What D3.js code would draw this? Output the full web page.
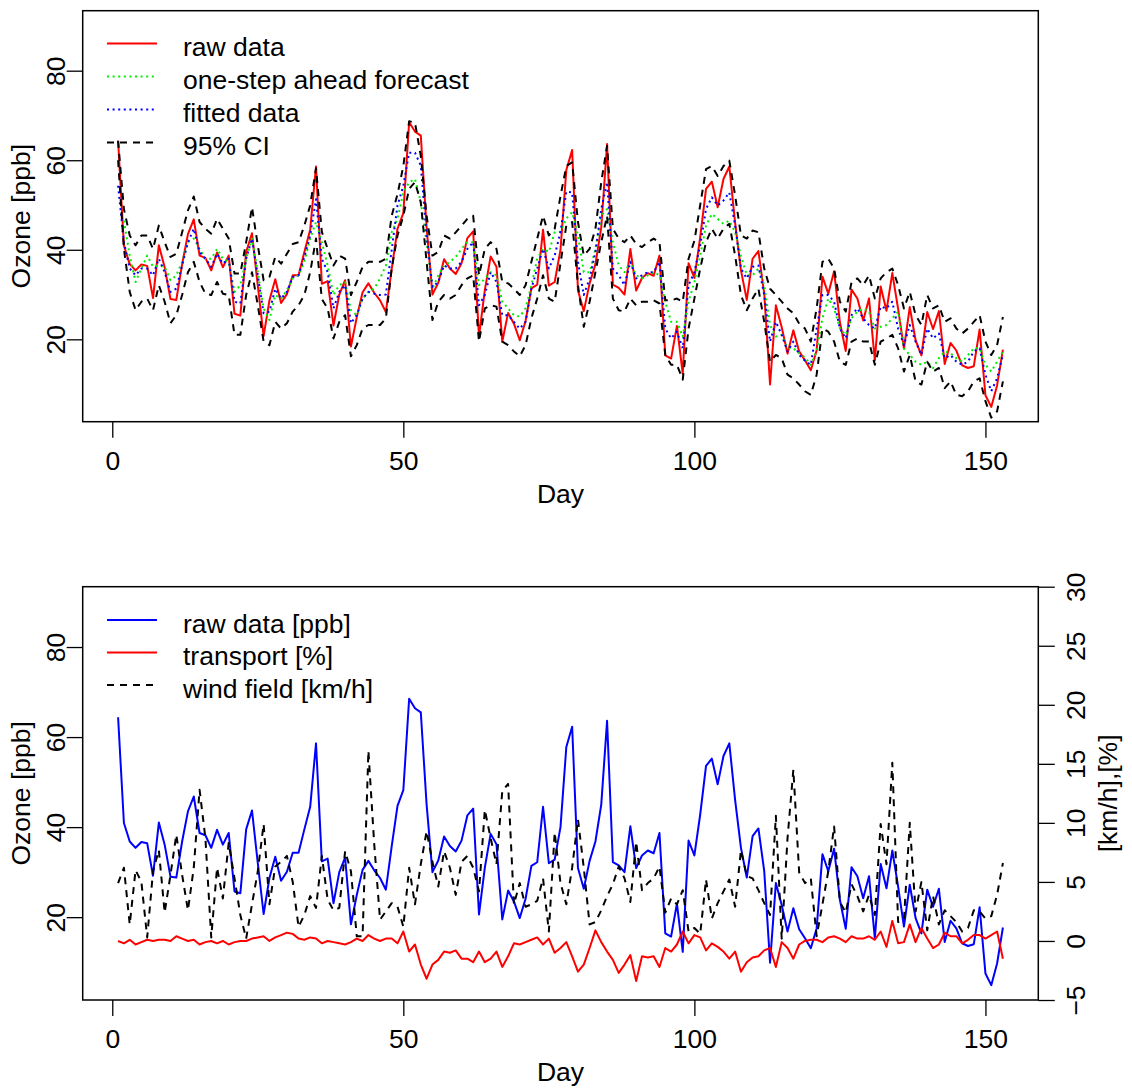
<!DOCTYPE html>
<html><head><meta charset="utf-8">
<script src="https://cdn.jsdelivr.net/npm/d3@7"></script>
<style>body{margin:0;background:#fff} text{font-family:"Liberation Sans",Arial,Helvetica,sans-serif;fill:#000}</style>
</head><body><svg id="c" width="1132" height="1089"></svg>
<script>
// ---------------- DATA ----------------
const days = d3.range(1, 154);
const xTicks = [0, 50, 100, 150];
const yTicksLeft = [20, 40, 60, 80];
const yTicksRight = [-5, 0, 5, 10, 15, 20, 25, 30];

const rawOzone = [64.4,40.9,36.8,35.4,36.7,36.4,29.2,41.0,36.1,29.0,28.8,36.8,43.5,46.8,38.7,38.2,35.4,39.4,36.1,38.7,
25.7,25.3,39.5,43.7,32.0,20.7,28.7,33.4,28.1,30.1,34.3,34.3,39.5,44.5,58.6,32.4,33.0,23.1,30.0,33.2,
18.4,24.9,30.5,32.5,30.4,28.7,26.1,35.7,44.7,48.2,68.5,66.4,65.5,45.0,30.0,32.6,37.9,35.8,34.6,37.0,
42.6,44.1,20.6,31.0,38.5,36.2,19.5,25.9,23.5,19.8,24.1,31.4,32.2,44.5,32.0,32.8,40.0,57.8,62.3,30.9,
26.3,32.5,36.8,45.0,63.6,32.2,31.5,30.0,40.2,30.9,33.7,34.8,34.2,38.7,16.4,15.7,23.0,12.3,37.0,33.7,
42.8,53.6,55.2,49.5,55.8,58.6,46.0,35.4,28.8,38.0,39.7,30.2,9.9,27.6,22.7,16.8,22.0,17.3,15.3,13.1,
17.5,34.0,30.2,35.2,23.8,17.4,31.1,29.1,24.2,29.1,15.3,31.8,26.4,34.8,26.8,17.9,27.2,19.8,16.4,26.1,
22.3,26.3,14.5,19.2,17.5,14.2,13.6,14.0,22.2,7.5,4.9,9.7,17.7];

const forecast = [null,46.5,38.7,32.8,35.8,38.7,36.2,36.5,36.2,33.2,34.3,37.3,41.7,42.5,40.2,38.0,38.0,40.2,38.0,37.3,
30.6,32.1,38.0,42.5,35.0,26.9,24.3,29.9,29.1,31.0,33.6,34.3,37.3,42.5,46.2,41.7,36.5,29.9,32.1,32.8,
26.5,25.4,29.1,30.6,31.3,33.6,36.5,43.9,46.9,52.8,55.1,55.8,50.6,41.7,31.3,34.3,36.5,37.3,38.4,40.2,
41.7,41.7,32.1,33.6,35.0,34.3,28.4,26.9,25.4,25.1,26.9,32.1,38.0,40.2,39.5,43.9,44.0,47.0,48.4,43.2,
35.0,35.0,40.2,47.6,49.1,41.7,36.5,35.0,37.3,34.3,33.6,34.3,35.0,34.3,28.4,23.9,23.9,20.6,28.4,32.8,
38.7,45.4,48.0,46.9,45.8,46.5,43.9,38.7,34.3,34.3,35.8,32.1,23.2,20.6,21.0,18.0,18.0,16.9,16.0,14.3,
17.3,24.7,29.1,26.9,22.4,21.0,24.7,26.2,26.9,26.2,22.4,22.8,23.2,24.7,26.2,18.0,16.5,15.0,14.3,15.0,
13.6,15.8,17.3,16.9,15.8,15.0,16.5,18.0,18.0,14.3,12.8,15.0,17.3];

const fitted = [54.3,41.7,35.8,34.3,35.8,35.8,34.3,38.0,35.0,30.6,31.3,36.5,41.7,44.7,39.5,38.0,36.2,39.1,36.9,38.0,
28.4,28.0,38.0,42.5,34.3,25.8,26.2,31.3,29.1,30.6,33.9,34.3,38.4,43.2,51.3,38.0,35.0,26.9,30.6,32.1,
23.6,25.4,29.1,30.6,30.2,29.9,30.0,40.0,49.9,54.3,61.7,61.7,58.8,43.2,31.7,32.8,36.5,35.8,35.8,37.3,
40.2,41.7,27.6,29.9,35.0,32.8,25.4,25.4,23.9,22.4,23.9,31.3,35.8,40.2,35.8,38.7,44.0,53.0,52.8,37.3,
29.9,33.6,39.5,49.1,55.1,35.8,34.3,32.1,37.3,33.6,34.3,35.0,35.0,37.3,22.4,20.2,21.7,18.0,32.1,35.0,
41.0,49.1,51.7,49.9,51.0,52.8,45.4,35.8,33.6,36.2,36.5,29.9,19.5,23.9,21.0,17.3,19.5,16.5,15.2,14.3,
22.4,29.9,29.9,28.4,22.4,20.2,25.4,26.9,24.7,23.2,22.4,27.3,26.9,28.4,22.4,18.7,23.2,19.5,16.5,22.4,
20.2,21.3,15.8,16.5,15.0,14.3,15.0,17.3,18.0,12.1,8.4,11.3,16.5];

const ciUpper = [64.3,49.1,43.2,41.0,43.2,43.2,40.2,45.4,41.7,38.4,39.1,43.9,48.8,51.9,46.2,44.7,43.6,46.9,44.7,42.5,
34.7,34.7,41.7,49.5,41.0,33.2,33.9,38.4,36.9,39.1,41.3,41.7,45.4,49.9,58.2,44.0,40.2,36.5,38.7,38.0,
29.9,32.8,36.2,37.3,37.3,37.3,38.0,47.6,52.4,58.7,68.7,68.4,61.0,47.6,38.7,39.5,43.2,42.5,43.9,45.4,
46.9,47.6,34.3,40.2,41.7,40.2,32.8,32.5,31.3,29.9,32.1,37.3,42.5,47.6,43.2,44.7,52.0,58.7,59.5,46.2,
38.7,40.2,44.7,55.1,63.2,44.7,42.5,41.7,43.2,41.3,40.6,41.7,42.5,41.7,28.7,28.7,29.1,28.4,38.0,42.0,
50.0,58.0,58.7,56.5,58.7,59.9,52.1,43.2,42.5,44.3,43.9,35.8,31.3,29.9,28.4,26.9,25.8,23.5,22.4,19.5,
26.9,37.3,38.0,35.8,28.4,26.2,32.8,33.6,32.1,34.3,29.1,33.6,35.0,35.8,32.1,26.9,30.6,25.4,23.2,29.9,
26.9,27.6,23.9,24.7,22.4,21.3,22.4,23.9,25.4,19.5,16.5,18.7,25.0];

const ciLower = [60.0,40.2,30.6,26.5,28.4,29.1,26.5,32.1,28.4,23.6,25.4,29.9,35.0,37.3,32.8,30.2,29.9,32.8,30.2,29.9,
21.0,21.0,29.9,35.0,27.6,19.5,18.7,23.9,22.4,23.6,26.2,27.6,29.9,35.0,42.5,29.0,26.9,20.2,23.9,25.4,
16.2,18.7,22.4,23.2,23.2,23.2,24.7,35.8,43.2,47.6,53.6,55.1,50.6,37.3,24.3,28.4,29.9,29.1,29.9,32.1,
33.6,34.3,19.5,26.9,27.6,27.3,19.5,18.7,17.3,16.2,18.7,24.7,29.1,34.3,29.1,28.4,37.0,45.4,46.2,32.1,
22.8,28.4,35.0,41.7,47.6,29.1,26.5,26.2,29.1,27.6,28.4,28.4,28.7,28.0,16.5,14.3,14.3,11.0,22.4,29.1,
35.8,41.7,44.7,42.5,44.7,45.8,38.7,29.9,26.5,29.1,31.3,23.9,15.0,16.5,15.8,12.1,11.3,9.9,8.4,7.6,
12.1,22.4,21.7,19.5,15.0,14.3,19.5,20.2,19.5,19.5,14.3,19.5,20.2,21.0,18.0,12.8,16.5,10.6,9.9,15.0,
12.8,13.6,9.1,10.6,7.6,7.3,8.4,10.6,11.3,6.2,2.5,3.9,10.6];

const transport = [0.0,-0.2,0.1,-0.3,-0.1,0.1,0.0,0.1,0.1,0.0,0.4,0.2,0.0,0.1,-0.3,-0.1,0.0,-0.2,0.0,-0.3,
-0.1,0.0,0.0,0.2,0.3,0.4,0.0,0.3,0.5,0.7,0.6,0.2,0.1,0.3,0.2,-0.2,0.0,-0.1,-0.2,-0.3,
-0.1,0.2,0.0,0.5,0.2,0.0,0.2,0.2,-0.2,0.8,-0.9,-0.3,-2.0,-3.2,-2.0,-1.6,-0.9,-1.0,-0.8,-1.5,
-1.5,-1.8,-0.9,-1.8,-1.5,-0.9,-2.2,-1.3,-0.2,-0.3,-0.1,0.1,0.3,-0.3,0.2,-1.0,-0.6,-0.1,-1.3,-2.6,
-2.0,-0.6,0.9,-0.1,-0.9,-1.6,-2.7,-2.0,-1.2,-3.4,-1.3,-1.4,-1.3,-2.2,-0.6,-0.9,-0.3,0.8,-0.2,0.5,
0.3,-0.8,-0.2,-0.5,-0.9,-1.5,-0.9,-2.6,-1.8,-1.4,-1.3,-0.8,-0.6,-2.2,-0.1,-0.6,-1.5,-0.3,0.0,0.1,
0.1,-0.1,0.3,0.4,0.2,-0.1,0.4,0.2,0.2,0.4,0.1,0.8,-0.5,1.7,-0.2,-0.1,1.4,-0.1,1.1,0.2,
-0.6,-0.3,0.7,0.4,0.4,-0.2,0.1,0.5,0.5,0.2,0.5,0.8,-1.5];

const windField = [4.9,6.2,1.4,6.0,5.0,0.3,5.9,7.7,2.4,5.6,9.0,5.6,2.6,6.2,12.8,8.7,0.3,6.2,3.6,8.3,
5.3,2.2,0.2,3.1,5.9,9.9,3.1,6.3,6.7,7.2,5.0,1.2,2.2,3.8,2.8,7.2,3.5,2.6,2.8,7.6,
5.9,0.4,0.4,16.1,8.2,1.8,2.5,3.2,2.9,1.2,6.2,3.1,6.5,9.3,6.7,4.6,7.6,6.2,3.9,6.7,
7.2,6.2,4.2,11.1,8.7,6.5,12.7,13.3,3.1,4.9,2.9,3.1,3.4,5.3,0.8,9.2,4.9,3.1,6.2,10.3,
6.2,1.4,1.6,2.6,3.8,4.8,6.3,5.3,3.3,8.4,4.3,4.9,5.3,6.3,2.4,3.6,3.1,4.3,0.8,1.1,
0.6,5.2,1.9,3.2,4.2,5.2,2.9,7.7,5.5,5.3,4.3,3.2,2.2,10.6,0.2,8.7,14.5,5.8,4.9,5.3,
0.4,3.1,5.9,9.7,3.3,2.4,4.8,3.8,2.5,3.9,2.2,9.9,6.5,15.1,1.6,1.8,10.0,2.5,5.0,0.9,
3.8,1.4,2.6,2.1,1.6,0.8,1.1,2.6,2.5,1.9,2.1,3.9,6.6];

const topLegend = ["raw data", "one-step ahead forecast", "fitted data", "95% CI"];
const bottomLegend = ["raw data [ppb]", "transport [%]", "wind field [km/h]"];

// ---------------- DRAW ----------------
const FS = 26.5;
const svg = d3.select("#c");
const xL = 82.7, xR = 1038.3;
const x = d3.scaleLinear().domain([-5.08, 159.08]).range([xL, xR]);
const panels = [{top: 10.7, bottom: 421.7}, {top: 586.7, bottom: 1000}];

function styleLine(p, col, dash, w) {
  p.attr("fill", "none").attr("stroke", col).attr("stroke-width", w || 2)
   .attr("stroke-linejoin", "round");
  if (dash) p.attr("stroke-dasharray", dash);
  return p;
}
const DOT = "2,3.6", DASH = "7,6";

function drawPanel(idx, series, legendItems, legendY0, legendDy, right) {
  const P = panels[idx];
  const g = svg.append("g");
  const y = d3.scaleLinear().domain([1.6, 93.4]).range([P.bottom, P.top]);
  const cid = "clip" + idx;
  svg.append("clipPath").attr("id", cid).append("rect")
    .attr("x", xL).attr("y", P.top).attr("width", xR - xL).attr("height", P.bottom - P.top);
  const plot = g.append("g").attr("clip-path", `url(#${cid})`);
  series.forEach(s => {
    const sc = s.right ? right.scale : y;
    const ln = d3.line().defined(d => d[1] != null).x(d => x(d[0])).y(d => sc(d[1]));
    styleLine(plot.append("path").attr("d", ln(days.map((d, i) => [d, s.values[i]]))), s.color, s.dash, s.width);
  });
  // x axis
  const xa = g.append("g").attr("transform", `translate(0,${P.bottom})`)
    .call(d3.axisBottom(x).tickValues(xTicks).tickSize(16).tickSizeOuter(0).tickFormat(d3.format("d")));
  xa.select(".domain").remove();
  xa.selectAll("line").attr("stroke", "#000").attr("stroke-width", 1.3);
  xa.selectAll("text").attr("font-size", FS).attr("y", 48).attr("dy", null)
    .style("font-family", '"Liberation Sans",Arial,sans-serif');
  g.append("text").attr("x", (xL + xR) / 2).attr("y", P.bottom + 81).attr("text-anchor", "middle")
    .attr("font-size", FS).text("Day");
  // left axis
  const ya = g.append("g").attr("transform", `translate(${xL},0)`)
    .call(d3.axisLeft(y).tickValues(yTicksLeft).tickSize(16).tickSizeOuter(0));
  ya.select(".domain").remove();
  ya.selectAll("line").attr("stroke", "#000").attr("stroke-width", 1.3);
  ya.selectAll("text").attr("font-size", FS).attr("x", null).attr("dy", null)
    .attr("text-anchor", "middle").attr("transform", `translate(${65 - xL},0) rotate(-90)`)
    .style("font-family", '"Liberation Sans",Arial,sans-serif');
  const ymid = (P.top + P.bottom) / 2;
  g.append("text").attr("transform", `translate(30,${ymid}) rotate(-90)`).attr("text-anchor", "middle")
    .attr("font-size", FS).text("Ozone [ppb]");
  // right axis
  if (right) {
    const ra = g.append("g").attr("transform", `translate(${xR},0)`)
      .call(d3.axisRight(right.scale).tickValues(yTicksRight).tickSize(16.5).tickSizeOuter(0));
    ra.select(".domain").remove();
    ra.selectAll("line").attr("stroke", "#000").attr("stroke-width", 1.3);
    ra.selectAll("text").attr("font-size", FS).attr("x", null).attr("dy", null)
      .attr("text-anchor", "middle").attr("transform", `translate(${1085 - xR},0) rotate(-90)`)
      .style("font-family", '"Liberation Sans",Arial,sans-serif');
    g.append("text").attr("transform", `translate(1117,${ymid}) rotate(-90)`).attr("text-anchor", "middle")
      .attr("font-size", FS).text("[km/h],[%]");
  }
  // box
  g.append("rect").attr("x", xL).attr("y", P.top).attr("width", xR - xL).attr("height", P.bottom - P.top)
    .attr("fill", "none").attr("stroke", "#000").attr("stroke-width", 1.5);
  // legend
  legendItems.forEach((lab, i) => {
    const s = series[i];
    const ly = legendY0 + i * legendDy;
    styleLine(g.append("line").attr("x1", 107).attr("x2", 157).attr("y1", ly).attr("y2", ly), s.color, s.dash, s.width);
    g.append("text").attr("x", 183).attr("y", ly + 12.5).attr("font-size", FS).text(lab);
  });
}

drawPanel(0, [
  {values: rawOzone, color: "#ff0000"},
  {values: forecast, color: "#00ee00", dash: DOT},
  {values: fitted, color: "#0000ff", dash: DOT},
  {values: ciUpper, color: "#000", dash: DASH},
  {values: ciLower, color: "#000", dash: DASH}
], topLegend, 43.5, 33, null);

const yR = d3.scaleLinear().domain([-5, 30]).range([panels[1].bottom, panels[1].top]);
drawPanel(1, [
  {values: rawOzone, color: "#0000ff"},
  {values: transport, color: "#ff0000", right: true},
  {values: windField, color: "#000", dash: DASH, right: true}
], bottomLegend, 620, 32.5, {scale: yR});
</script></body></html>
